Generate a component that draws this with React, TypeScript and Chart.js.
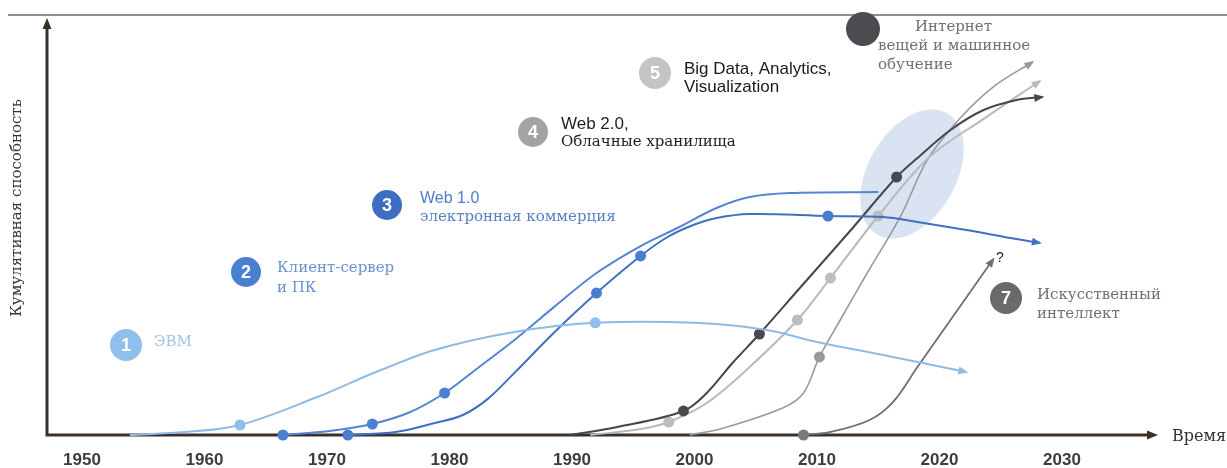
import React, { useEffect, useRef } from 'react';
import { Chart, registerables } from 'chart.js';

Chart.register(...registerables);

// ---- axis ticks ----
const xTickYears = [1950, 1960, 1970, 1980, 1990, 2000, 2010, 2020, 2030];
const X_MIN = 1947.14;
const X_MAX = 2037.84;
const Y_MIN = 0;
const Y_MAX = 100;

// ---- series data (year, cumulative capability) ----
const evmYears = [1953.9, 1958.4, 1962.9, 1969.2, 1974.0, 1978.8, 1985.3, 1991.9, 2000.0, 2005.9, 2010.0, 2015.4, 2022.2];
const evmValues = [0, 0.7, 2.4, 9.1, 15.1, 20.4, 24.7, 26.9, 26.9, 25.2, 22.3, 19.2, 15.1];
const evmDots = [2, 7];

const clientYears = [1966.4, 1970.2, 1973.7, 1976.8, 1979.6, 1982.1, 1985.3, 1988.5, 1992.0, 1995.6, 1998.6, 2001.8, 2004.5, 2007.8, 2015.0];
const clientValues = [0, 0.96, 2.64, 5.52, 10.07, 15.59, 22.78, 30.6, 38.85, 45.32, 49.64, 54.44, 57.07, 58.03, 58.27];
const clientDots = [0, 2, 4];

const web1Years = [1971.7, 1975.6, 1978.8, 1981.1, 1983.1, 1985.3, 1988.5, 1992.0, 1995.6, 1997.8, 1999.9, 2001.8, 2004.5, 2010.9, 2015.4, 2018.2, 2022.2, 2025.8, 2028.2];
const web1Values = [0, 0.72, 2.88, 4.8, 8.6, 14.9, 24.46, 34.05, 42.93, 47.48, 50.36, 52.04, 53.0, 52.52, 52.28, 51.08, 49.16, 47.24, 46.04];
const web1Dots = [0, 7, 8, 13];

const web2Years = [1989.8, 1993.7, 1999.1, 2001.0, 2003.1, 2005.3, 2008.6, 2012.7, 2016.5, 2018.2, 2020.9, 2023.6, 2026.3, 2028.4];
const web2Values = [0, 1.92, 5.76, 10.07, 17.27, 24.22, 35.25, 48.92, 61.87, 66.43, 73.14, 77.94, 80.34, 81.06];
const web2Dots = [2, 5, 8];

const bigDataYears = [1991.5, 1995.6, 1997.9, 2001.0, 2004.5, 2008.4, 2011.1, 2015.0, 2019.2, 2023.7, 2028.2];
const bigDataValues = [0, 1.44, 3.12, 7.67, 16.31, 27.58, 37.65, 52.52, 66.7, 76.0, 84.89];
const bigDataDots = [2, 5, 6, 7];

const iotYears = [1999.6, 2002.1, 2007.2, 2008.9, 2010.2, 2011.9, 2014.1, 2016.8, 2019.0, 2021.7, 2024.5, 2027.6];
const iotValues = [0, 1.44, 6.47, 10.07, 18.71, 27.58, 38.85, 52.28, 65.9, 76.0, 83.7, 89.45];
const iotDots = [4];

const aiYears = [2008.9, 2011.1, 2014.3, 2016.2, 2018.2, 2020.9, 2024.4];
const aiValues = [0, 0.72, 3.6, 7.9, 16.3, 27.6, 42.2];
const aiDots = [0];

// highlighted zone centre (year, value)
const ellipseCenter = [2017.76, 62.6];

const series = [
  { label: 'ЭВМ', years: evmYears, values: evmValues, dots: evmDots, color: '#8dbbe8', dot: '#8fbfec', width: 2, arrow: true },
  { label: 'Клиент-сервер и ПК', years: clientYears, values: clientValues, dots: clientDots, color: '#5385d4', dot: '#4d80d2', width: 2, arrow: false },
  { label: 'Web 1.0', years: web1Years, values: web1Values, dots: web1Dots, color: '#4070c4', dot: '#4a7dd0', width: 2, arrow: true },
  { label: 'Web 2.0', years: web2Years, values: web2Values, dots: web2Dots, color: '#46464b', dot: '#48484d', width: 2, arrow: true },
  { label: 'Big Data', years: bigDataYears, values: bigDataValues, dots: bigDataDots, color: '#b9b9b9', dot: '#bdbdbd', width: 2, arrow: true },
  { label: 'Интернет вещей', years: iotYears, values: iotValues, dots: iotDots, color: '#9a9a9a', dot: '#9a9a9a', width: 1.6, arrow: true },
  { label: 'Искусственный интеллект', years: aiYears, values: aiValues, dots: aiDots, color: '#6f6f6f', dot: '#7a7a7a', width: 1.8, arrow: true },
];

// ---- annotations ----
const SERIF = '"DejaVu Serif", serif';
const SANS = '"Liberation Sans", Arial, sans-serif';

const badges = [
  { n: '1', x: 126, y: 345, r: 16, color: '#8fc0ec' },
  { n: '2', x: 246, y: 272, r: 15, color: '#4a80d2' },
  { n: '3', x: 387, y: 205, r: 15, color: '#3e6dc2' },
  { n: '4', x: 533, y: 132, r: 15, color: '#a3a3a3' },
  { n: '5', x: 655, y: 73, r: 16, color: '#c4c4c4' },
  { n: '', x: 863, y: 29, r: 17, color: '#4b4b50' },
  { n: '7', x: 1006, y: 298, r: 16, color: '#6a6a6a' },
];

const labels = [
  { t: 'ЭВМ', x: 154, y: 342, font: `15px ${SERIF}`, color: '#9cc3ea' },
  { t: 'Клиент-сервер', x: 277, y: 268, font: `15px ${SERIF}`, color: '#6a90cf' },
  { t: 'и ПК', x: 277, y: 288, font: `15px ${SERIF}`, color: '#6a90cf' },
  { t: 'Web 1.0', x: 420, y: 199, font: `16px ${SANS}`, color: '#4d7ccb' },
  { t: 'электронная коммерция', x: 420, y: 217, font: `15px ${SERIF}`, color: '#5a80c2' },
  { t: 'Web 2.0,', x: 561, y: 124, font: `17px ${SANS}`, color: '#1e1e1e' },
  { t: 'Облачные хранилища', x: 561, y: 142, font: `15px ${SERIF}`, color: '#1e1e1e' },
  { t: 'Big Data, Analytics,', x: 684, y: 69, font: `17px ${SANS}`, color: '#1a1a1a' },
  { t: 'Visualization', x: 684, y: 87, font: `17px ${SANS}`, color: '#1a1a1a' },
  { t: 'Интернет', x: 915, y: 27, font: `15px ${SERIF}`, color: '#707070' },
  { t: 'вещей и машинное', x: 878, y: 46, font: `15px ${SERIF}`, color: '#707070' },
  { t: 'обучение', x: 878, y: 65, font: `15px ${SERIF}`, color: '#707070' },
  { t: 'Искусственный', x: 1037, y: 295, font: `15px ${SERIF}`, color: '#707070' },
  { t: 'интеллект', x: 1037, y: 314, font: `15px ${SERIF}`, color: '#707070' },
  { t: '?', x: 996, y: 258, font: `14px ${SANS}`, color: '#222222' },
];

const AXIS_TITLE_X = 'Время';
const AXIS_TITLE_Y = 'Кумулятивная способность';
const AXIS_COLOR = '#3a3027';

const decorPlugin = {
  id: 'decor',
  beforeDatasetsDraw(chart: any) {
    const { ctx, chartArea: a, scales } = chart;
    const xs = scales.x;
    const ys = scales.y;
    ctx.save();
    // page top rule
    ctx.strokeStyle = '#6a6a6a';
    ctx.lineWidth = 1.5;
    ctx.beginPath();
    ctx.moveTo(8, 15);
    ctx.lineTo(chart.width, 15);
    ctx.stroke();

    // highlighted zone
    const cx = xs.getPixelForValue(ellipseCenter[0]);
    const cy = ys.getPixelForValue(ellipseCenter[1]);
    ctx.fillStyle = '#dae3f1';
    ctx.beginPath();
    ctx.ellipse(cx, cy, 70, 44, -Math.PI / 3, 0, Math.PI * 2);
    ctx.fill();

    // axes
    ctx.strokeStyle = AXIS_COLOR;
    ctx.fillStyle = AXIS_COLOR;
    ctx.lineWidth = 3;
    ctx.beginPath();
    ctx.moveTo(a.left - 1.5, a.bottom);
    ctx.lineTo(a.right - 8, a.bottom);
    ctx.moveTo(a.left, a.bottom + 1.5);
    ctx.lineTo(a.left, a.top + 8);
    ctx.stroke();
    ctx.beginPath();
    ctx.moveTo(a.right, a.bottom);
    ctx.lineTo(a.right - 11, a.bottom - 4.5);
    ctx.lineTo(a.right - 11, a.bottom + 4.5);
    ctx.closePath();
    ctx.fill();
    ctx.beginPath();
    ctx.moveTo(a.left, a.top);
    ctx.lineTo(a.left - 4.5, a.top + 11);
    ctx.lineTo(a.left + 4.5, a.top + 11);
    ctx.closePath();
    ctx.fill();

    // axis titles
    ctx.fillStyle = '#333333';
    ctx.font = `16px ${SERIF}`;
    ctx.textAlign = 'left';
    ctx.textBaseline = 'middle';
    ctx.fillText(AXIS_TITLE_X, a.right + 14, a.bottom + 2);
    ctx.save();
    ctx.translate(17, 208);
    ctx.rotate(-Math.PI / 2);
    ctx.textAlign = 'center';
    ctx.font = `15px ${SERIF}`;
    ctx.fillText(AXIS_TITLE_Y, 0, 0);
    ctx.restore();
    ctx.restore();
  },
  afterDatasetsDraw(chart: any) {
    const { ctx } = chart;
    ctx.save();
    chart.data.datasets.forEach((ds: any, i: number) => {
      if (!ds.arrow) return;
      const pts = chart.getDatasetMeta(i).data;
      const last = pts[pts.length - 1];
      let px = last.cp1x;
      let py = last.cp1y;
      if (px === undefined || (Math.abs(px - last.x) < 0.5 && Math.abs(py - last.y) < 0.5)) {
        px = pts[pts.length - 2].x;
        py = pts[pts.length - 2].y;
      }
      const ang = Math.atan2(last.y - py, last.x - px);
      const L = 10;
      const W = 4;
      const tx = last.x + Math.cos(ang) * 2;
      const ty = last.y + Math.sin(ang) * 2;
      const bx = tx - Math.cos(ang) * L;
      const by = ty - Math.sin(ang) * L;
      ctx.fillStyle = ds.borderColor;
      ctx.beginPath();
      ctx.moveTo(tx, ty);
      ctx.lineTo(bx - Math.sin(ang) * W, by + Math.cos(ang) * W);
      ctx.lineTo(bx + Math.sin(ang) * W, by - Math.cos(ang) * W);
      ctx.closePath();
      ctx.fill();
    });
    ctx.restore();
  },
  afterDraw(chart: any) {
    const { ctx } = chart;
    ctx.save();
    badges.forEach((b) => {
      ctx.fillStyle = b.color;
      ctx.beginPath();
      ctx.arc(b.x, b.y, b.r, 0, Math.PI * 2);
      ctx.fill();
      if (b.n) {
        ctx.fillStyle = '#ffffff';
        ctx.font = `bold 18px ${SANS}`;
        ctx.textAlign = 'center';
        ctx.textBaseline = 'middle';
        ctx.fillText(b.n, b.x, b.y + 1);
      }
    });
    labels.forEach((l) => {
      ctx.fillStyle = l.color;
      ctx.font = l.font;
      ctx.textAlign = 'left';
      ctx.textBaseline = 'middle';
      ctx.fillText(l.t, l.x, l.y);
    });
    ctx.restore();
  },
};

export default function App() {
  const ref = useRef<HTMLCanvasElement>(null);

  useEffect(() => {
    document.body.style.margin = '0';
    const canvas = ref.current;
    if (!canvas) return;
    const chart = new Chart(canvas, {
      type: 'line',
      data: {
        datasets: series.map((s) => ({
          label: s.label,
          data: s.years.map((x, i) => ({ x, y: s.values[i] })),
          borderColor: s.color,
          backgroundColor: s.color,
          borderWidth: s.width,
          tension: 0.35,
          pointRadius: s.years.map((_, i) => (s.dots.includes(i) ? 5.5 : 0)),
          pointHoverRadius: 0,
          pointBorderWidth: 0,
          pointBackgroundColor: s.dot,
          pointBorderColor: s.dot,
          fill: false,
          clip: false,
          arrow: s.arrow,
        })) as any,
      },
      options: {
        animation: false,
        responsive: true,
        maintainAspectRatio: false,
        events: [],
        layout: { padding: { left: 47, right: 69, top: 18, bottom: 0 } },
        plugins: { legend: { display: false }, tooltip: { enabled: false }, title: { display: false } },
        scales: {
          x: {
            type: 'linear',
            min: X_MIN,
            max: X_MAX,
            grid: { display: false, drawTicks: false },
            border: { display: false },
            afterBuildTicks: (scale: any) => {
              scale.ticks = xTickYears.map((v) => ({ value: v }));
            },
            afterFit: (scale: any) => {
              scale.height = 33;
            },
            ticks: {
              autoSkip: false,
              maxRotation: 0,
              padding: 15,
              color: '#3d3d3d',
              font: { family: '"Liberation Sans", Arial, sans-serif', size: 17, weight: 'bold' },
              callback: (v: any) => String(v),
            },
          },
          y: {
            type: 'linear',
            min: Y_MIN,
            max: Y_MAX,
            display: false,
          },
        },
      },
      plugins: [decorPlugin],
    });
    return () => chart.destroy();
  }, []);

  return (
    <div style={{ width: 1227, height: 468, position: 'relative', background: '#ffffff' }}>
      <canvas ref={ref} />
    </div>
  );
}
